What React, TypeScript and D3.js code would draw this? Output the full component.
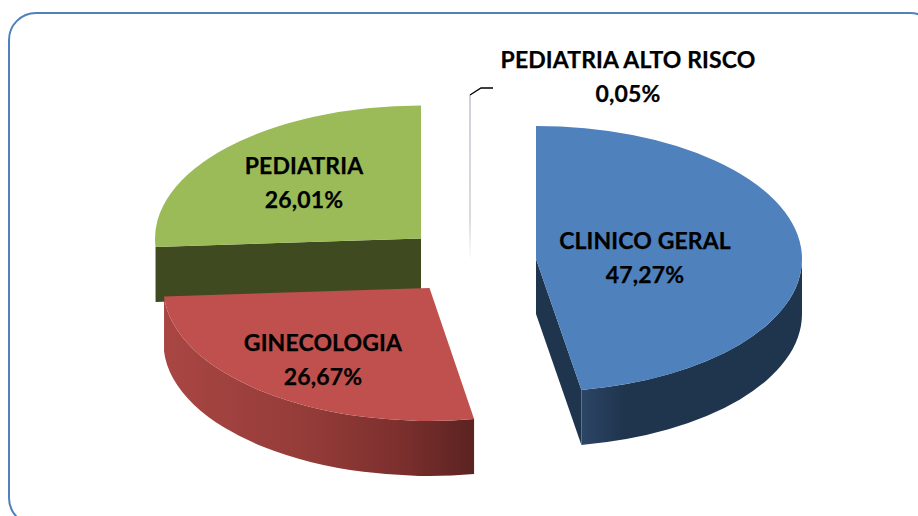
import React from "react";
import * as d3 from "d3";

const categories = ["CLINICO GERAL", "PEDIATRIA ALTO RISCO", "GINECOLOGIA", "PEDIATRIA"];
const shares = [47.27, 0.05, 26.67, 26.01];
const percentLabels = ["47,27%", "0,05%", "26,67%", "26,01%"];
const topColors = ["#4F81BD", "#B9A9CF", "#C0504D", "#9BBB59"];
const wallColors = ["#1F344D", "none", "none", "#3F4A20"];
const apexX = [536, 470, 429.5, 421];
const apexY = [259, 260, 288, 238.5];
const labelX = [645, 628, 323, 304];
const labelY = [241, 60, 343, 166];

const RX = 266, RY = 133, DEPTH = 55;

type Slice = d3.PieArcDatum<number>;

const slices: Slice[] = d3.pie<number>().sort(null).value(d => d)(shares);
const scaleY = d3.scaleLinear().domain([0, RX]).range([0, RY]);

const pt = (i: number, a: number, dy = 0): [number, number] => [
  apexX[i] + RX * Math.sin(a),
  apexY[i] - scaleY(RX * Math.cos(a)) + dy,
];

// top face of a slice: d3.arc drawn in a circle, flattened to the ellipse
const arcGen = d3.arc<Slice>().innerRadius(0).outerRadius(RX);

const rimPath = (i: number, a0: number, a1: number) => {
  const p0 = pt(i, a0), p1 = pt(i, a1), p2 = pt(i, a1, DEPTH), p3 = pt(i, a0, DEPTH);
  const large = a1 - a0 > Math.PI ? 1 : 0;
  return `M${p0}A${RX},${RY} 0 ${large} 1 ${p1}L${p2}A${RX},${RY} 0 ${large} 0 ${p3}Z`;
};

const wallPath = (i: number, a: number) => {
  const p0 = pt(i, a), p1 = pt(i, a, DEPTH);
  return `M${apexX[i]},${apexY[i]}L${p0}L${p1}L${apexX[i]},${apexY[i] + DEPTH}Z`;
};

function Face({ i }: { i: number }) {
  return (
    <path
      d={arcGen(slices[i]) as string}
      fill={topColors[i]}
      transform={`translate(${apexX[i]},${apexY[i]}) scale(1,${RY / RX})`}
    />
  );
}

function Label({ i }: { i: number }) {
  return (
    <text textAnchor="middle" fontFamily="Lato, 'Open Sans', sans-serif" fontWeight={700} fontSize={23} letterSpacing={0.12} fill="#000" stroke="#000" strokeWidth={0.25}>
      <tspan x={labelX[i]} y={labelY[i] + 8}>{categories[i]}</tspan>
      <tspan x={labelX[i]} y={labelY[i] + 42}>{percentLabels[i]}</tspan>
    </text>
  );
}

export default function App() {
  const [blue, thin, red, green] = slices;
  return (
    <svg width={918} height={516} style={{ position: "fixed", left: 0, top: 0, background: "#fff" }}>
      <defs>
        <linearGradient id="redRim" gradientUnits="userSpaceOnUse" x1={164} x2={474} y1={0} y2={0}>
          <stop offset="0" stopColor="#A94643" />
          <stop offset="0.45" stopColor="#953C39" />
          <stop offset="0.75" stopColor="#7D302E" />
          <stop offset="1" stopColor="#5B2321" />
        </linearGradient>
        <linearGradient id="blueRim" gradientUnits="userSpaceOnUse" x1={581} x2={802} y1={0} y2={0}>
          <stop offset="0" stopColor="#2C4666" />
          <stop offset="0.2" stopColor="#1F344D" />
          <stop offset="1" stopColor="#1F344D" />
        </linearGradient>
        <linearGradient id="thinFade" x1={0} x2={0} y1={0} y2={1}>
          <stop offset="0" stopColor="#A99BC0" />
          <stop offset="0.75" stopColor="#B8B8B8" />
          <stop offset="1" stopColor="#FFFFFF" />
        </linearGradient>
      </defs>

      <rect x={9} y={13} width={928} height={512} rx={27} ry={27} fill="#fff" stroke="#4F81BD" strokeWidth={2} />

      {/* PEDIATRIA */}
      <path d={wallPath(3, green.startAngle)} fill={wallColors[3]} />
      <Face i={3} />

      {/* PEDIATRIA ALTO RISCO: the sliver seen edge-on, with its leader */}
      <rect x={apexX[1] - 0.5} y={apexY[1] - RY - 32} width={1} height={RY + 32} fill="url(#thinFade)" />
      <path
        d={d3.line()([[apexX[1], apexY[1] - RY - 32], [apexX[1] + 11, apexY[1] - RY - 39], [apexX[1] + 23, apexY[1] - RY - 39]]) as string}
        fill="none" stroke="#000" strokeWidth={1.3}
      />

      {/* CLINICO GERAL */}
      <path d={wallPath(0, blue.endAngle)} fill={wallColors[0]} />
      <path d={rimPath(0, Math.PI / 2, blue.endAngle)} fill="url(#blueRim)" />
      <Face i={0} />

      {/* GINECOLOGIA */}
      <path d={rimPath(2, red.startAngle, red.endAngle)} fill="url(#redRim)" />
      <Face i={2} />

      <Label i={0} />
      <Label i={1} />
      <Label i={2} />
      <Label i={3} />
    </svg>
  );
}
